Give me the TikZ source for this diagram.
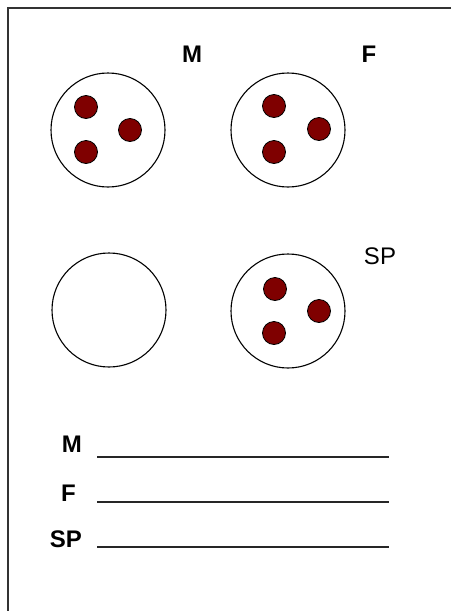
\documentclass[tikz,border=0pt]{standalone}
\usepackage{fontspec}
\setmainfont{Liberation Sans}
\definecolor{dotred}{HTML}{7F0000}
\definecolor{frame}{HTML}{333333}
\tikzset{
  cell/.style={circle, draw=black, line width=1.1pt, minimum size=114pt, inner sep=0pt},
  seed/.style={circle, draw=black, line width=0.8pt, fill=dotred, minimum size=23pt, inner sep=0pt},
  lab/.style={inner sep=0pt, font=\fontsize{24}{28}\selectfont\bfseries},
  labreg/.style={inner sep=0pt, font=\fontsize{24}{28}\selectfont},
  blank/.style={line width=1.5pt, draw=black!85}
}
\begin{document}
\begin{tikzpicture}[x=1pt,y=-1pt]
\useasboundingbox (0,0) rectangle (451,611);
% frame (only top and left edges visible)
\coordinate (ftr) at (451,8);
\coordinate (ftl) at (8,8);
\coordinate (fbl) at (8,611);
\draw[frame, line width=2.2pt] (ftr) -- (ftl) -- (fbl);
% circles
\node[cell] (c1) at (108,130) {};
\node[cell] (c2) at (288,130) {};
\node[cell] (c3) at (109,310) {};
\node[cell] (c4) at (288,311) {};
% dots
\node[seed] (d11) at (86,107) {};
\node[seed] (d12) at (130,130) {};
\node[seed] (d13) at (86,152) {};
\node[seed] (d21) at (274,106) {};
\node[seed] (d22) at (319,129) {};
\node[seed] (d23) at (274,152) {};
\node[seed] (d41) at (275,289) {};
\node[seed] (d42) at (319,311) {};
\node[seed] (d43) at (274,333) {};
% labels
\node[lab] (lM) at (192,54) {M};
\node[lab] (lF) at (369,54) {F};
\node[labreg] (lSP) at (380,256) {SP};
% answer lines
\node[lab, anchor=east] (aM) at (82,444) {M};
\node[lab, anchor=east] (aF) at (76,493) {F};
\node[lab, anchor=east] (aSP) at (82,539) {SP};
\coordinate (m1) at (97,457); \coordinate (m2) at (389,457);
\coordinate (f1) at (97,502); \coordinate (f2) at (389,502);
\coordinate (s1) at (97,547); \coordinate (s2) at (389,547);
\draw[blank] (m1) -- (m2);
\draw[blank] (f1) -- (f2);
\draw[blank] (s1) -- (s2);
\end{tikzpicture}
\end{document}
